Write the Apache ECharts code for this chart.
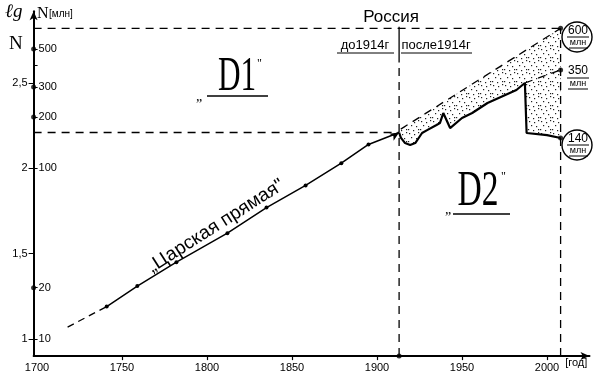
<!DOCTYPE html>
<html><head><meta charset="utf-8">
<script src="https://cdn.jsdelivr.net/npm/echarts@6/dist/echarts.min.js"></script>
<style>html,body{margin:0;padding:0;background:#fff}#c{width:600px;height:379px}</style>
</head><body><div id="c"></div>
<script>
// ---------- DATA ----------
const xTickLabels = [1700, 1750, 1800, 1850, 1900, 1950, 2000];
const lgTickLabels = [1, 1.5, 2, 2.5];
const nTickLabels = [10, 20, 100, 200, 300, 500];
const nMinorTicks = [400];
const nDotted = [20, 200, 300, 500];

// "Царская прямая" (lg N)
const tsarDashYears = [1718, 1741];
const tsarDashLg = [1.07, 1.19];
const tsarYears = [1741, 1759, 1782, 1812, 1835, 1858, 1879, 1895, 1913];
const tsarLg = [1.19, 1.31, 1.45, 1.62, 1.77, 1.90, 2.03, 2.14, 2.21];

// after 1914 actual
const actualYears = [1913, 1914, 1916.5, 1919.5, 1922.5, 1926.5, 1929.5, 1935, 1937, 1939, 1943, 1950, 1956, 1965, 1982, 1987, 1988, 2000, 2008];
const actualLg = [2.21, 2.18, 2.148, 2.137, 2.148, 2.207, 2.224, 2.254, 2.265, 2.324, 2.236, 2.295, 2.324, 2.383, 2.459, 2.50, 2.207, 2.195, 2.178];

// continuation of the tsarist line (to 600 mln)
const upperYears = [1914, 2008];
const upperLg = [2.23, 2.82];
// continuation of the soviet growth (to 350 mln)
const sovYears = [1987, 2008];
const sovLg = [2.50, 2.576];

// end values
const endYear = 2008;
const endLg = [2.82, 2.576, 2.178];
const endLabels = ['600', '350', '140'];
const unitLabel = 'млн';

// reference lines
const divideYear = 1913;
const topRefLg = 2.82;
const midRefLg = 2.21;
const dividerTopLg = 2.83, dividerBottomLg = 2.62;

const X_MIN = 1698, X_MAX = 2025, Y_MIN = 0.9, Y_MAX = 2.92;

// ---------- CHART ----------
const FONT = "'Liberation Sans Narrow','Liberation Sans',sans-serif";
const SANS = "'Liberation Sans',sans-serif";
const SERIF = "'Liberation Serif','DejaVu Serif',serif";

// stipple pattern texture
const pat = document.createElement('canvas');
pat.width = 12; pat.height = 12;
(function(){
  const g = pat.getContext('2d');
  g.fillStyle = '#222';
  [[1,1],[6,2],[10,0],[3,5],[8,6],[0,9],[5,10],[10,9]].forEach(p => g.fillRect(p[0], p[1], 1.2, 1.2));
})();

const chart = echarts.init(document.getElementById('c'), null, {renderer: 'canvas'});
const pairs = (xs, ys) => xs.map((x, i) => [x, ys[i]]);
const dashed = {color: '#000', width: 1.3, type: [8, 6]};

const tsarData = pairs(tsarYears, tsarLg).map((p, i, a) => i === a.length - 1
  ? {value: p, symbol: 'arrow', symbolSize: [6, 9], symbolRotate: -58}
  : {value: p});

const center = {align: 'center', verticalAlign: 'middle', textAlign: 'center', textVerticalAlign: 'middle'};

const option = {
  animation: false,
  backgroundColor: '#fff',
  grid: {left: 33.6, width: 555.9, top: 11.3, height: 344.8, outerBoundsMode: 'none', containLabel: false},
  xAxis: {
    type: 'value', min: X_MIN, max: X_MAX,
    axisLine: {show: true, lineStyle: {color: '#000', width: 2}, symbol: ['none', 'arrow'], symbolSize: [6, 9]},
    axisTick: {show: true, customValues: xTickLabels.slice(1), length: 4, lineStyle: {color: '#000', width: 1.2}},
    axisLabel: {customValues: xTickLabels, color: '#000', fontSize: 11, fontFamily: FONT, margin: 6,
      formatter: v => String(Math.round(v))},
    splitLine: {show: false},
    name: '[год]', nameLocation: 'end', nameGap: -25,
    nameTextStyle: {color: '#000', fontSize: 11, fontFamily: FONT, align: 'left', verticalAlign: 'top', padding: [1, 0, 0, 0]}
  },
  yAxis: [{
    type: 'value', min: Y_MIN, max: Y_MAX, position: 'left',
    axisLine: {show: true, lineStyle: {color: '#000', width: 2}, symbol: ['none', 'arrow'], symbolSize: [6, 9]},
    axisTick: {show: true, customValues: lgTickLabels, length: 5, lineStyle: {color: '#000', width: 1}},
    axisLabel: {customValues: lgTickLabels, color: '#000', fontSize: 11, fontFamily: FONT, margin: 6,
      formatter: v => String(v).replace('.', ',')},
    splitLine: {show: false}
  }, {
    type: 'value', min: Y_MIN, max: Y_MAX, position: 'left', offset: 0,
    axisLine: {show: false},
    axisTick: {show: true, inside: true, customValues: nTickLabels.concat(nMinorTicks).map(Math.log10), length: 4, lineStyle: {color: '#000', width: 1}},
    axisLabel: {inside: true, customValues: nTickLabels.map(Math.log10), color: '#000', fontSize: 11, fontFamily: FONT, margin: 5,
      formatter: v => String(Math.round(Math.pow(10, v)))},
    splitLine: {show: false}
  }],
  series: [
    { // stippled loss area
      type: 'custom', z: 1, silent: true,
      data: [[actualYears[0], actualLg[0]]],
      renderItem: function (params, api) {
        const pts = [];
        upperYears.forEach((y, i) => pts.push(api.coord([y, upperLg[i]])));
        for (let i = actualYears.length - 1; i >= 0; i--) pts.push(api.coord([actualYears[i], actualLg[i]]));
        return {type: 'polygon', shape: {points: pts}, style: {fill: {image: pat, repeat: 'repeat'}, stroke: null}};
      }
    },
    {type: 'line', z: 3, data: pairs(tsarDashYears, tsarDashLg), symbol: 'none', lineStyle: {color: '#000', width: 1.3, type: [7, 5]}},
    {type: 'line', z: 4, data: tsarData, symbol: 'circle', symbolSize: 4, showSymbol: true,
      itemStyle: {color: '#000'}, lineStyle: {color: '#000', width: 1.5}},
    {type: 'line', z: 4, data: pairs(actualYears, actualLg), symbol: 'none', lineStyle: {color: '#000', width: 2.2}},
    {type: 'line', z: 3, data: pairs(upperYears, upperLg), symbol: 'none', lineStyle: dashed},
    {type: 'line', z: 3, data: pairs(sovYears, sovLg), symbol: 'none', lineStyle: dashed},
    // reference dashed lines
    {type: 'line', z: 2, data: [[X_MIN, topRefLg], [endYear, topRefLg]], symbol: 'none', lineStyle: dashed},
    {type: 'line', z: 2, data: [[X_MIN, midRefLg], [divideYear, midRefLg]], symbol: 'none', lineStyle: dashed},
    {type: 'line', z: 2, data: [[divideYear, Y_MIN], [divideYear, dividerBottomLg]], symbol: 'none', lineStyle: dashed},
    {type: 'line', z: 2, data: [[divideYear, dividerBottomLg], [divideYear, dividerTopLg]], symbol: 'none', lineStyle: {color: '#000', width: 1.3}},
    {type: 'line', z: 2, data: [[endYear, Y_MIN], [endYear, topRefLg]], symbol: 'none', lineStyle: dashed},
    // dots
    {type: 'scatter', z: 5, symbolSize: 5, itemStyle: {color: '#000'},
      data: endLg.map(v => [endYear, v]).concat([[divideYear, Y_MIN]]).concat(nDotted.map(n => [X_MIN, Math.log10(n)]))}
  ],
  graphic: [
    {type: 'text', x: 5, y: 2, style: {text: 'ℓg', font: 'italic 19px ' + SERIF, fill: '#000'}},
    {type: 'text', x: 9, y: 35, style: {text: 'N', font: '19px ' + SERIF, fill: '#000'}},
    {type: 'text', x: 37, y: 6, style: {text: 'N', font: '16px ' + SERIF, fill: '#000'}},
    {type: 'text', x: 49, y: 9, style: {text: '[млн]', font: '10px ' + SANS, fill: '#000'}},
    {type: 'text', x: 391, y: 17, style: Object.assign({text: 'Россия', font: '17px ' + SANS, fill: '#000'}, center)},
    {type: 'text', x: 365, y: 45, style: Object.assign({text: 'до1914г', font: '13px ' + FONT, fill: '#000'}, center)},
    {type: 'text', x: 436, y: 45, style: Object.assign({text: 'после1914г', font: '13px ' + FONT, fill: '#000'}, center)},
    {type: 'line', shape: {x1: 337, y1: 53, x2: 394, y2: 53}, style: {stroke: '#000', lineWidth: 1}},
    {type: 'line', shape: {x1: 401, y1: 53, x2: 472, y2: 53}, style: {stroke: '#000', lineWidth: 1}},
    // D1
    {type: 'text', x: 237, y: 77, scaleX: 0.65, style: Object.assign({text: 'D1', font: '48px ' + SERIF, fill: '#000'}, center)},
    {type: 'text', x: 196, y: 90, style: {text: '„', font: '14px ' + SERIF, fill: '#000'}},
    {type: 'text', x: 257, y: 58, style: {text: '"', font: '12px ' + SERIF, fill: '#000'}},
    {type: 'line', shape: {x1: 207, y1: 96, x2: 268, y2: 96}, style: {stroke: '#000', lineWidth: 1.5}},
    // D2
    {type: 'text', x: 478, y: 192, scaleX: 0.67, style: Object.assign({text: 'D2', font: '50px ' + SERIF, fill: '#000'}, center)},
    {type: 'text', x: 445, y: 203, style: {text: '„', font: '14px ' + SERIF, fill: '#000'}},
    {type: 'text', x: 501, y: 171, style: {text: '"', font: '12px ' + SERIF, fill: '#000'}},
    {type: 'line', shape: {x1: 453, y1: 214, x2: 510, y2: 214}, style: {stroke: '#000', lineWidth: 1.5}},
    // tsarist line caption
    {type: 'text', x: 216, y: 226, rotation: 0.567, style: Object.assign({text: '„Царская прямая"', font: '19px ' + SANS, fill: '#000'}, center)},
    // end labels
    {type: 'circle', shape: {cx: 577, cy: 37, r: 15}, style: {stroke: '#000', lineWidth: 1.4, fill: 'none'}},
    {type: 'circle', shape: {cx: 577, cy: 145, r: 15}, style: {stroke: '#000', lineWidth: 1.4, fill: 'none'}},
    {type: 'text', x: 578, y: 31, style: Object.assign({text: endLabels[0], font: '12px ' + FONT, fill: '#000'}, center)},
    {type: 'line', shape: {x1: 567, y1: 37, x2: 589, y2: 37}, style: {stroke: '#000', lineWidth: 1}},
    {type: 'text', x: 578, y: 43, style: Object.assign({text: unitLabel, font: '9px ' + SANS, fill: '#000'}, center)},
    {type: 'line', shape: {x1: 569, y1: 48, x2: 588, y2: 48}, style: {stroke: '#000', lineWidth: 1}},
    {type: 'text', x: 578, y: 71, style: Object.assign({text: endLabels[1], font: '12px ' + FONT, fill: '#000'}, center)},
    {type: 'line', shape: {x1: 567, y1: 78, x2: 589, y2: 78}, style: {stroke: '#000', lineWidth: 1}},
    {type: 'text', x: 578, y: 84, style: Object.assign({text: unitLabel, font: '9px ' + SANS, fill: '#000'}, center)},
    {type: 'line', shape: {x1: 568, y1: 89, x2: 588, y2: 89}, style: {stroke: '#000', lineWidth: 1}},
    {type: 'text', x: 578, y: 139, style: Object.assign({text: endLabels[2], font: '12px ' + FONT, fill: '#000'}, center)},
    {type: 'line', shape: {x1: 567, y1: 145, x2: 589, y2: 145}, style: {stroke: '#000', lineWidth: 1}},
    {type: 'text', x: 578, y: 151, style: Object.assign({text: unitLabel, font: '9px ' + SANS, fill: '#000'}, center)},
    {type: 'line', shape: {x1: 569, y1: 156, x2: 588, y2: 156}, style: {stroke: '#000', lineWidth: 1}}
  ]
};
chart.setOption(option);
</script>
</body></html>
